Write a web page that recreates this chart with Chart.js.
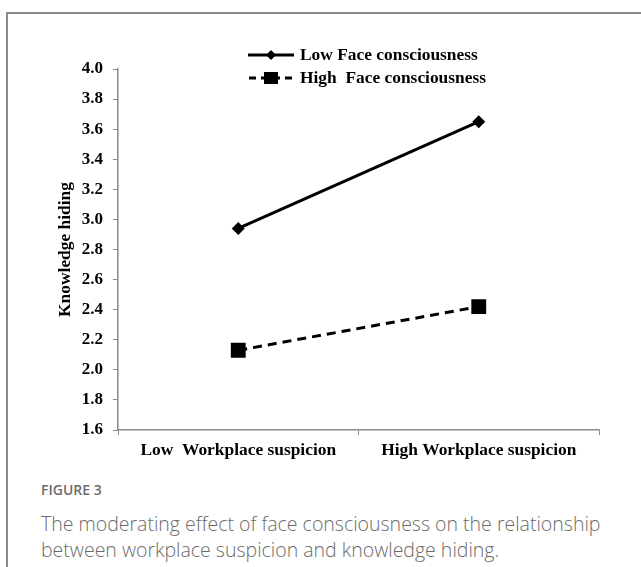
<!DOCTYPE html>
<html>
<head>
<meta charset="utf-8">
<script src="https://cdn.jsdelivr.net/npm/chart.js@4.4.1/dist/chart.umd.min.js"></script>
<style>
  html, body { margin: 0; padding: 0; background: #fff; overflow: hidden; }
  #card {
    position: absolute; left: 6px; top: 12px; width: 720px; height: 640px;
    border: 2px solid #8a8a8a; box-sizing: border-box;
  }
  #wrap { position: absolute; left: 0; top: 0; width: 641px; height: 470px; }
  #cap {
    position: absolute; left: 41px; top: 480px; width: 590px;
    font-family: "Open Sans", sans-serif; color: #6b6b6b;
  }
  #cap .fig { font-size: 14px; font-weight: 600; line-height: 20px; }
  #cap .txt { font-size: 19.5px; font-weight: 300; line-height: 26px; margin-top: 11px; }
</style>
</head>
<body>
<div id="card"></div>
<div id="wrap"><canvas id="chart1" width="641" height="470"></canvas></div>
<div id="cap">
  <div class="fig">FIGURE 3</div>
  <div class="txt">The moderating effect of face consciousness on the relationship between workplace suspicion and knowledge hiding.</div>
</div>
<script>
const categories = ["Low  Workplace suspicion", "High Workplace suspicion"];
const lowFace = [2.94, 3.65];
const highFace = [2.13, 2.42];
const seriesNames = ["Low Face consciousness", "High  Face consciousness"];
const yTicks = [1.6, 1.8, 2.0, 2.2, 2.4, 2.6, 2.8, 3.0, 3.2, 3.4, 3.6, 3.8, 4.0];

const serif = "'Liberation Serif', 'Times New Roman', serif";
const cht1 = document.getElementById("chart1");

// legend drawn by hand so the marker sits on the line like in the original
const lineLegend = {
  id: "lineLegend",
  afterDraw(chart) {
    const ctx = chart.ctx;
    const rows = [55, 78];
    chart.data.datasets.forEach((ds, i) => {
      const y = rows[i];
      const x0 = 248, x1 = 294, xm = 271;
      ctx.save();
      ctx.strokeStyle = "#000";
      ctx.lineWidth = 3;
      ctx.setLineDash(i === 0 ? [] : [7, 5]);
      ctx.lineDashOffset = i === 0 ? 0 : -1;
      ctx.beginPath();
      ctx.moveTo(x0, y);
      ctx.lineTo(x1, y);
      ctx.stroke();
      ctx.setLineDash([]);
      ctx.fillStyle = "#000";
      ctx.beginPath();
      if (i === 0) {
        ctx.moveTo(xm, y - 5); ctx.lineTo(xm + 5, y); ctx.lineTo(xm, y + 5); ctx.lineTo(xm - 5, y);
      } else {
        ctx.rect(xm - 7, y - 6, 14, 12);
      }
      ctx.fill();
      ctx.font = "bold 17.4px " + serif;
      ctx.textBaseline = "middle";
      ctx.fillText(seriesNames[i], 300, y + 1);
      ctx.restore();
    });
  }
};

new Chart(cht1, {
  type: "line",
  data: {
    labels: categories,
    datasets: [
      {
        label: seriesNames[0],
        data: lowFace,
        borderColor: "#000",
        backgroundColor: "#000",
        borderWidth: 3,
        pointStyle: "rectRot",
        pointRadius: 6.5,
        pointBorderWidth: 0,
      },
      {
        label: seriesNames[1],
        data: highFace,
        borderColor: "#000",
        backgroundColor: "#000",
        borderWidth: 3,
        borderDash: [9, 6],
        pointStyle: "rect",
        pointRadius: 10.5,
        pointBorderWidth: 0,
      },
    ],
  },
  options: {
    responsive: false,
    animation: false,
    layout: { padding: { left: 0, right: 42, top: 69, bottom: 0 } },
    plugins: { legend: { display: false }, tooltip: { enabled: false } },
    scales: {
      x: {
        offset: true,
        grid: { offset: true, drawOnChartArea: false, tickLength: 5, color: "#8a8a8a" },
        border: { color: "#8a8a8a", width: 1.5 },
        ticks: { color: "#000", font: { family: serif, size: 17.4, weight: "bold" }, padding: 5 },
        afterFit: (s) => { s.height = 40; },
      },
      y: {
        min: 1.6,
        max: 4.0,
        afterBuildTicks: (s) => { s.ticks = yTicks.map((v) => ({ value: v })); },
        grid: { drawOnChartArea: false, tickLength: 5, color: "#8a8a8a" },
        border: { color: "#8a8a8a", width: 1.5 },
        ticks: {
          color: "#000",
          font: { family: serif, size: 17, weight: "bold" },
          padding: 10,
          callback: (v) => Number(v).toFixed(1),
        },
        title: {
          display: true,
          text: "Knowledge hiding",
          color: "#000",
          font: { family: serif, size: 17.4, weight: "bold" },
          padding: { top: 55, bottom: 0 },
        },
        afterFit: (s) => { s.width = 118; },
      },
    },
  },
  plugins: [lineLegend],
});
</script>
</body>
</html>
